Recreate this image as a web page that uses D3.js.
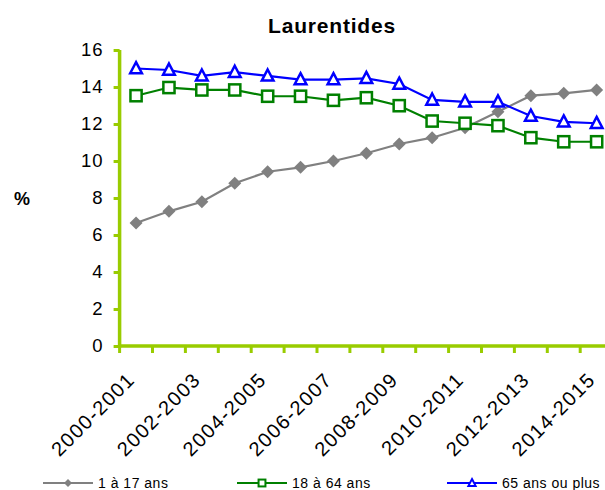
<!DOCTYPE html>
<html><head><meta charset="utf-8">
<script src="https://cdn.jsdelivr.net/npm/d3@7"></script>
<style>body{margin:0;background:#fff}svg{display:block;font-family:"Liberation Sans",Arial,sans-serif}</style>
</head><body><svg id="c" width="605" height="490"></svg>
<script>
const categories = ["2000-2001","2001-2002","2002-2003","2003-2004","2004-2005","2005-2006","2006-2007","2007-2008","2008-2009","2009-2010","2010-2011","2011-2012","2012-2013","2013-2014","2014-2015"];
const young = [6.65,7.28,7.8,8.8,9.42,9.66,10.0,10.42,10.92,11.26,11.8,12.66,13.53,13.66,13.84];
const adults = [13.53,13.97,13.84,13.84,13.5,13.5,13.28,13.42,12.99,12.16,12.04,11.91,11.26,11.04,11.04];
const seniors = [15.0,14.92,14.6,14.8,14.6,14.4,14.4,14.47,14.16,13.3,13.2,13.2,12.43,12.12,12.04];
const seriesNames = ["1 à 17 ans","18 à 64 ans","65 ans ou plus"];
const yTicks = [0,2,4,6,8,10,12,14,16];

const svg = d3.select("#c");
const L = 119.6, R = 119.6 + 32.9*15, T = 50, B = 346;
const axisColor = "#99CC00";
const x = d3.scaleBand().domain(categories).range([L, R]);
const y = d3.scaleLinear().domain([0,16]).range([B, T]);
const cx = d => x(d) + x.bandwidth()/2;

// title
svg.append("text").attr("x",332).attr("y",33).attr("text-anchor","middle")
  .attr("font-weight","bold").attr("font-size",21).attr("letter-spacing",0.8).text("Laurentides");
svg.append("text").attr("x",22).attr("y",205).attr("text-anchor","middle")
  .attr("font-weight","bold").attr("font-size",18).text("%");

// y axis
const ya = svg.append("g").attr("transform",`translate(${L},0)`)
  .call(d3.axisLeft(y).tickValues(yTicks).tickSize(6).tickPadding(10));
ya.select(".domain").remove();
ya.selectAll(".tick line").attr("stroke",axisColor).attr("stroke-width",3);
ya.selectAll(".tick text").attr("font-size",18.5).attr("fill","#000").attr("letter-spacing",1)
  .attr("font-family","Liberation Sans, Arial, sans-serif");
svg.append("line").attr("x1",L).attr("x2",L).attr("y1",T).attr("y2",B+1.5)
  .attr("stroke",axisColor).attr("stroke-width",3.5);

// x axis
const xTickPos = d3.range(16).map(i => L + i*x.bandwidth());
svg.selectAll(".xt").data(xTickPos).join("line").attr("class","xt")
  .attr("x1",d=>d).attr("x2",d=>d).attr("y1",B).attr("y2",B+7)
  .attr("stroke",axisColor).attr("stroke-width",3);
svg.append("line").attr("x1",L-1.5).attr("x2",R).attr("y1",B).attr("y2",B)
  .attr("stroke",axisColor).attr("stroke-width",3.5);
svg.selectAll(".xl").data(categories.filter((d,i)=>i%2===0)).join("text").attr("class","xl")
  .attr("transform",d=>`translate(${cx(d)},${B+35}) rotate(-45)`)
  .attr("text-anchor","end").attr("font-size",20).attr("letter-spacing",1.4).text(d=>d);

// series
const line = d3.line().x((d,i)=>cx(categories[i])).y(d=>y(d));
const series = [
  {name:seriesNames[0], vals:young, color:"#808080", sym:"diamond"},
  {name:seriesNames[1], vals:adults, color:"#008000", sym:"square"},
  {name:seriesNames[2], vals:seniors, color:"#0000FF", sym:"triangle"}
];
function marker(g, s, px, py, sz){
  if(s.sym==="diamond"){
    const r = sz*0.5;
    g.append("path").attr("d",`M${px},${py-r}L${px+r},${py}L${px},${py+r}L${px-r},${py}Z`).attr("fill",s.color);
  } else if(s.sym==="square"){
    const h = sz*0.43;
    g.append("rect").attr("x",px-h).attr("y",py-h).attr("width",2*h).attr("height",2*h)
      .attr("fill","#fff").attr("stroke",s.color).attr("stroke-width",sz>8?2.5:2);
  } else {
    const h = sz*0.45;
    g.append("path").attr("d",`M${px},${py-h*1.1}L${px+h},${py+h*0.8}L${px-h},${py+h*0.8}Z`)
      .attr("fill","#fff").attr("stroke",s.color).attr("stroke-width",sz>8?2.5:2);
  }
}
series.forEach(s=>{
  svg.append("path").datum(s.vals).attr("d",line).attr("fill","none")
    .attr("stroke",s.color).attr("stroke-width",2.2);
});
series.forEach(s=>{
  const g = svg.append("g");
  s.vals.forEach((v,i)=>marker(g,s,cx(categories[i]),y(v),13));
});

// legend
const legX = [43,237,447];
series.forEach((s,i)=>{
  const g = svg.append("g");
  const ly = 483;
  g.append("line").attr("x1",legX[i]).attr("x2",legX[i]+50).attr("y1",ly).attr("y2",ly)
    .attr("stroke",s.color).attr("stroke-width",2.2);
  marker(g,s,legX[i]+25,ly,8);
  g.append("text").attr("x",legX[i]+55).attr("y",ly+5).attr("font-size",14)
    .attr("letter-spacing",0.5).text(s.name);
});
</script></body></html>
